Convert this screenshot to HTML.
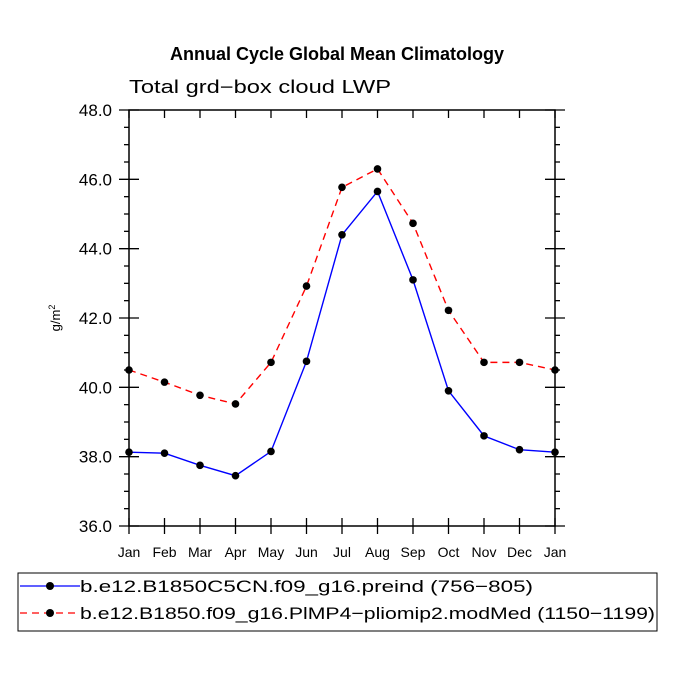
<!DOCTYPE html>
<html><head><meta charset="utf-8"><style>
body{margin:0;background:#fff}
svg text{font-family:"Liberation Sans",sans-serif;fill:#000}
</style></head><body>
<svg width="675" height="675">
<text x="337" y="60" text-anchor="middle" font-size="18" font-weight="bold">Annual Cycle Global Mean Climatology</text>
<text x="129" y="93" font-size="18" textLength="262" lengthAdjust="spacingAndGlyphs">Total grd−box cloud LWP</text>
<text x="0" y="0" font-size="13" transform="translate(60,318) rotate(-90)" text-anchor="middle">g/m<tspan dy="-5" font-size="9">2</tspan></text>
<g id="axes"></g>
<g id="series"></g>
<rect x="18" y="573" width="639" height="58" fill="none" stroke="#000" stroke-width="1"/>
<g>
<line x1="20" y1="586" x2="80" y2="586" stroke="#0000ff" stroke-width="1.3"/><circle cx="50" cy="586" r="4"/>
<text x="80" y="592" font-size="17" textLength="453" lengthAdjust="spacingAndGlyphs">b.e12.B1850C5CN.f09_g16.preind (756−805)</text></g>
<g>
<line x1="20" y1="613" x2="80" y2="613" stroke="#ff0000" stroke-width="1.3" stroke-dasharray="7,5"/><circle cx="50" cy="613" r="4"/>
<text x="80" y="619" font-size="17" textLength="575" lengthAdjust="spacingAndGlyphs">b.e12.B1850.f09_g16.PlMP4−pliomip2.modMed (1150−1199)</text></g>
</svg>
<script>
const months=["Jan","Feb","Mar","Apr","May","Jun","Jul","Aug","Sep","Oct","Nov","Dec","Jan"];
const preind=[38.13,38.1,37.75,37.45,38.15,40.75,44.4,45.65,43.1,39.9,38.6,38.2,38.13];
const pliomip=[40.5,40.15,39.77,39.52,40.72,42.92,45.77,46.3,44.73,42.22,40.72,40.72,40.5];
const yTicks=[36,38,40,42,44,46,48];
const X0=129,X1=555,Y0=526,Y1=110,YMIN=36,YMAX=48;
const x=i=>X0+i*(X1-X0)/12;
const y=v=>Y0-(v-YMIN)*(Y0-Y1)/(YMAX-YMIN);
const NS="http://www.w3.org/2000/svg";
function mk(t,a,p){const e=document.createElementNS(NS,t);for(const k in a)e.setAttribute(k,a[k]);p.appendChild(e);return e;}
const ax=document.getElementById('axes');
const frame=mk('rect',{x:X0,y:Y1,width:X1-X0,height:Y0-Y1,fill:'none',stroke:'#000','stroke-width':1.5},ax);


months.forEach((m,i)=>{
  mk('line',{x1:x(i),x2:x(i),y1:Y0-8,y2:Y0+8,stroke:'#000','stroke-width':1.3},ax);
  mk('line',{x1:x(i),x2:x(i),y1:Y1,y2:Y1+8,stroke:'#000','stroke-width':1.3},ax);
  const t=mk('text',{x:x(i),y:Y0+31,'text-anchor':'middle','font-size':14},ax);t.textContent=m;
  
  
});
for(let v=YMIN;v<=YMAX+0.001;v+=0.5){
  const major=Math.abs(v-Math.round(v/2)*2)<0.01;
  const L=major?10:5;
  mk('line',{x1:X0-L,x2:major?X0+10:X0,y1:y(v),y2:y(v),stroke:'#000','stroke-width':1.3},ax);
  mk('line',{x1:major?X1-10:X1,x2:X1+L,y1:y(v),y2:y(v),stroke:'#000','stroke-width':1.3},ax);
}
yTicks.forEach(v=>{
  const t=mk('text',{x:X0-17,y:y(v)+6,'text-anchor':'end','font-size':17,fill:'#222'},ax);t.textContent=v.toFixed(1);
  
  
});
const sg=document.getElementById('series');
function series(vals,color,dash,name){
  const g=mk('g',{},sg);
  
  
  mk('polyline',{points:vals.map((v,i)=>x(i)+','+y(v)).join(' '),fill:'none',stroke:color,'stroke-width':1.4,'stroke-dasharray':dash},g);
  vals.forEach((v,i)=>{const c=mk('circle',{cx:x(i),cy:y(v),r:3.8,fill:'#000'},g);
    
    });
}
series(preind,'#0000ff','none','series-preind');
series(pliomip,'#ff0000','7,5','series-pliomip');
</script>
</body></html>
